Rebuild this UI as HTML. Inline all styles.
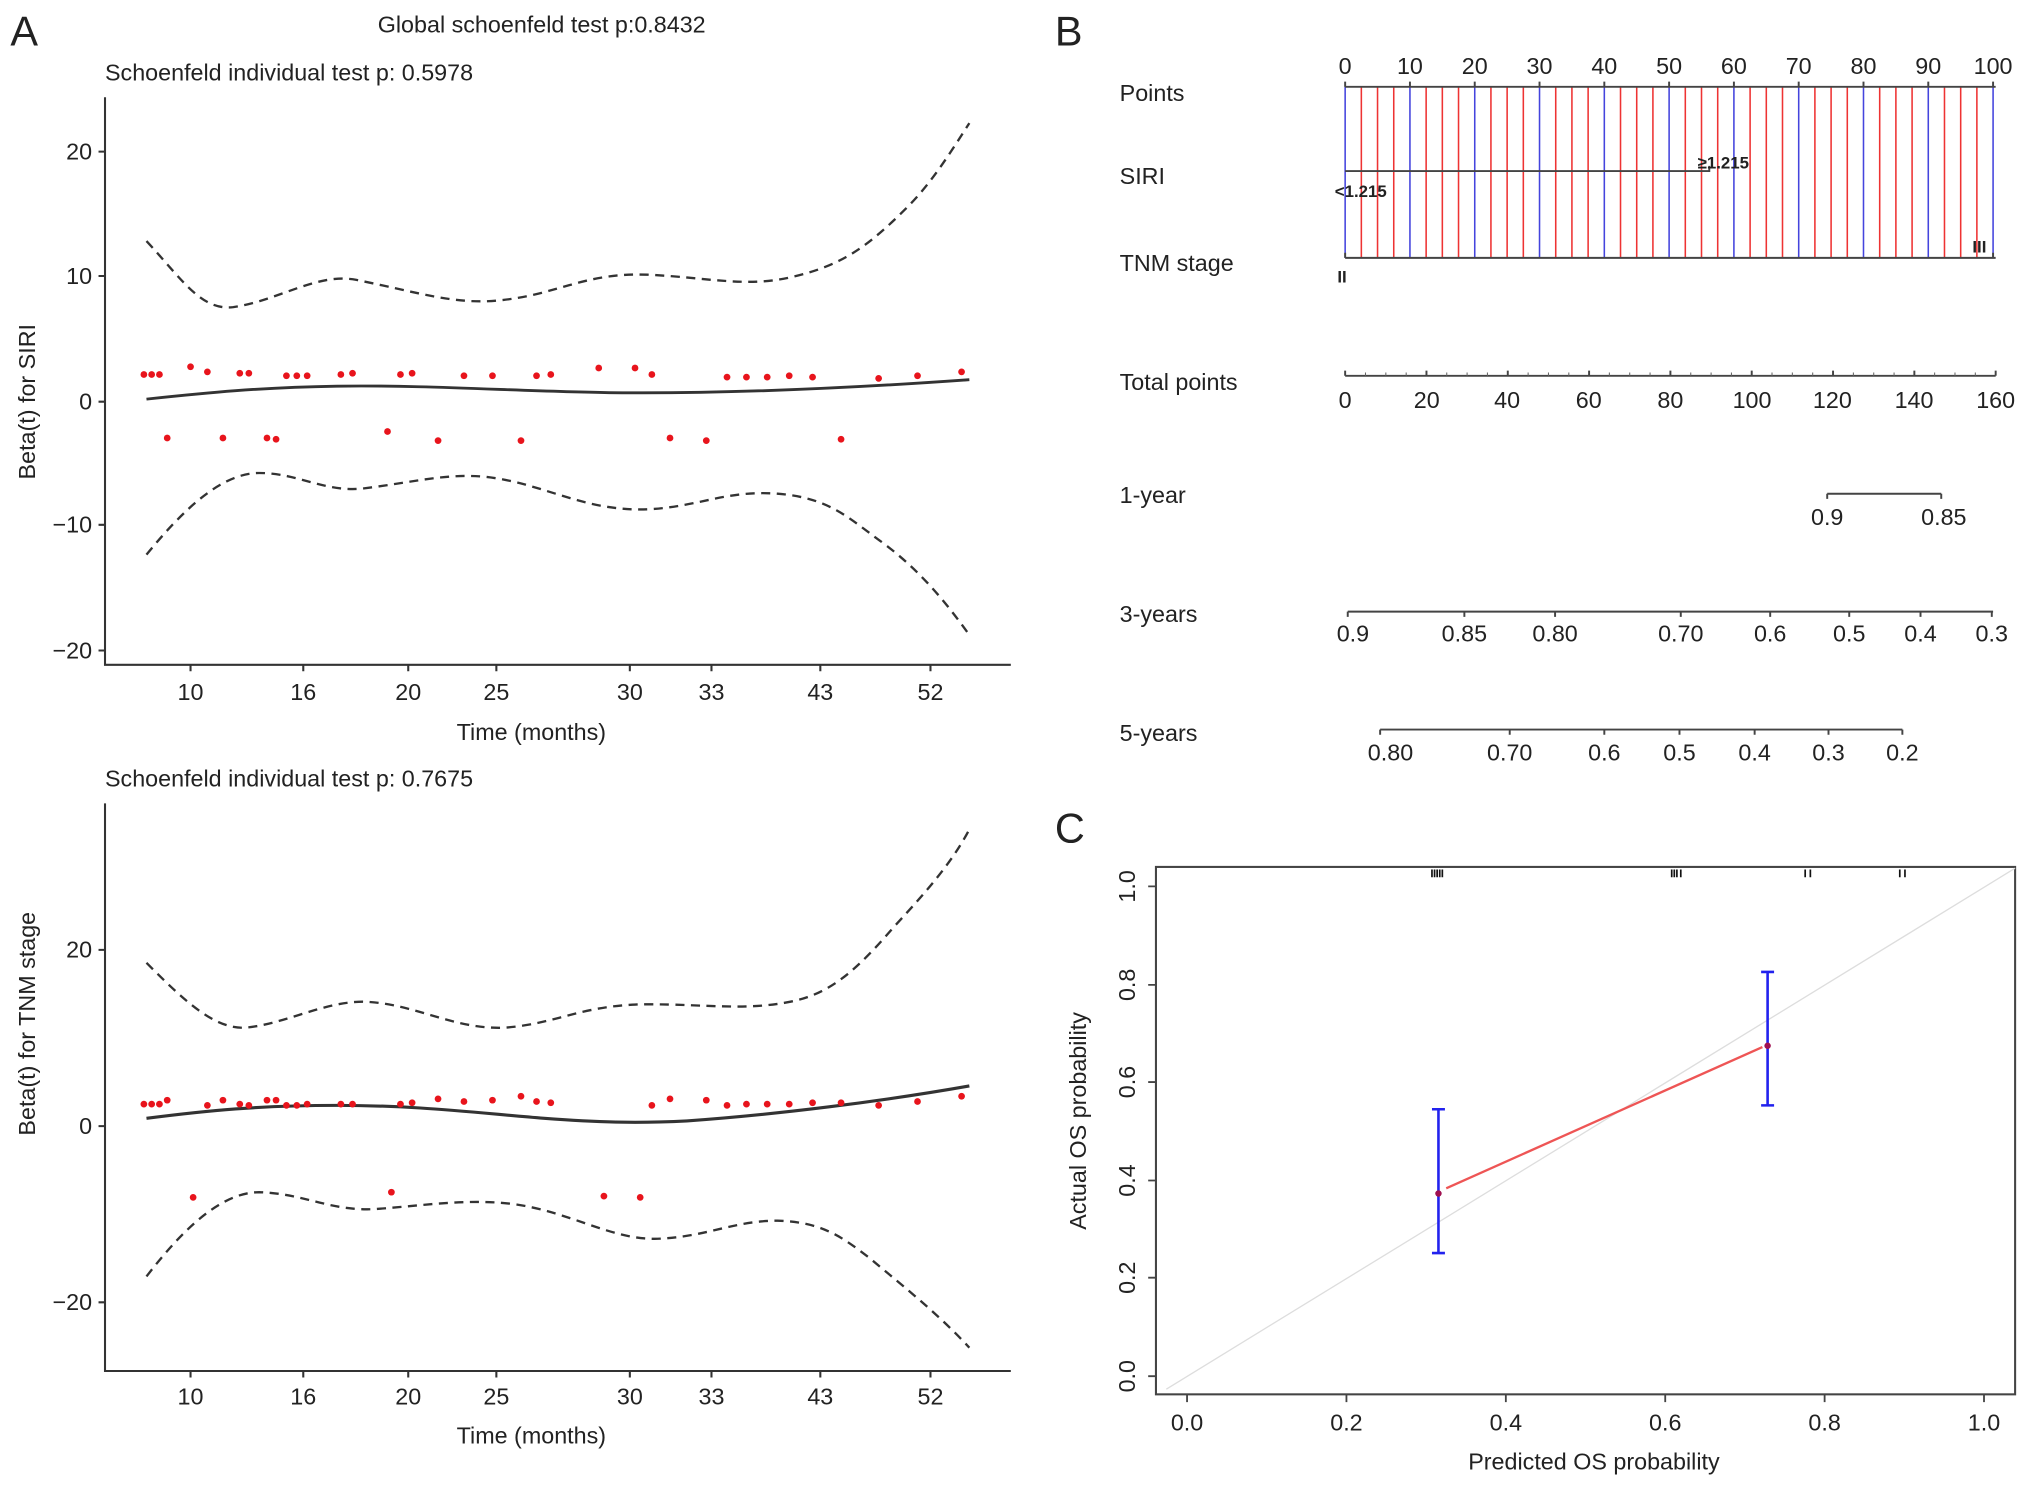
<!DOCTYPE html>
<html><head><meta charset="utf-8"><style>
html,body{margin:0;padding:0;background:#fff;}
svg{display:block;}
text{font-family:"Liberation Sans",sans-serif;fill:#222;}
</style></head><body>
<svg width="2032" height="1487" viewBox="0 0 1568 1147.5" xmlns="http://www.w3.org/2000/svg">
<rect width="1568" height="1148" fill="#fff"/>
<!-- Panel letters -->
<text x="8" y="35" font-size="32">A</text>
<text x="814" y="35" font-size="32">B</text>
<text x="814" y="650" font-size="32">C</text>

<!-- ===== Panel A top ===== -->
<text x="418" y="25" font-size="18" text-anchor="middle">Global schoenfeld test p:0.8432</text>
<text x="81" y="62" font-size="18">Schoenfeld individual test p: 0.5978</text>
<g stroke="#333" stroke-width="1.6" fill="none">
<path d="M81,75 V513 H780"/>
<path d="M76,117 H81 M76,213 H81 M76,310 H81 M76,405 H81 M76,502 H81"/>
<path d="M147,513 V518 M234,513 V518 M315,513 V518 M383,513 V518 M486,513 V518 M549,513 V518 M633,513 V518 M718,513 V518"/>
</g>
<g font-size="18" text-anchor="end">
<text x="71" y="123">20</text><text x="71" y="219">10</text><text x="71" y="316">0</text><text x="71" y="411">−10</text><text x="71" y="508">−20</text>
</g>
<g font-size="18" text-anchor="middle">
<text x="147" y="540">10</text><text x="234" y="540">16</text><text x="315" y="540">20</text><text x="383" y="540">25</text><text x="486" y="540">30</text><text x="549" y="540">33</text><text x="633" y="540">43</text><text x="718" y="540">52</text>
<text x="410" y="571">Time (months)</text>
</g>
<text transform="translate(27,310) rotate(-90)" font-size="18" text-anchor="middle">Beta(t) for SIRI</text>
<g fill="none" stroke="#333" stroke-width="1.8">
<path stroke-dasharray="7,5" d="M113,186 C140,215 155,240 180,237 C215,232 245,210 275,216 C320,225 350,235 383,232 C430,228 450,210 500,212 C545,214 575,222 610,214 C650,205 670,190 700,160 C720,140 735,115 748,95"/>
<path stroke-dasharray="7,5" d="M113,428 C140,395 170,365 200,365 C230,365 250,380 280,377 C320,372 345,365 375,368 C420,373 450,395 500,393 C540,391 560,378 600,381 C640,384 655,400 680,418 C710,440 730,465 748,490"/>
<path stroke-width="2.2" d="M113,308 C160,303 200,299 260,298 C330,297 400,302 470,303 C560,304 650,300 748,293"/>
</g>
<g fill="#e8141c">
<circle cx="111" cy="289" r="2.6"/><circle cx="117" cy="289" r="2.6"/><circle cx="123" cy="289" r="2.6"/><circle cx="147" cy="283" r="2.6"/><circle cx="160" cy="287" r="2.6"/><circle cx="185" cy="288" r="2.6"/><circle cx="192" cy="288" r="2.6"/><circle cx="221" cy="290" r="2.6"/><circle cx="229" cy="290" r="2.6"/><circle cx="237" cy="290" r="2.6"/><circle cx="263" cy="289" r="2.6"/><circle cx="272" cy="288" r="2.6"/><circle cx="309" cy="289" r="2.6"/><circle cx="318" cy="288" r="2.6"/><circle cx="358" cy="290" r="2.6"/><circle cx="380" cy="290" r="2.6"/><circle cx="414" cy="290" r="2.6"/><circle cx="425" cy="289" r="2.6"/><circle cx="462" cy="284" r="2.6"/><circle cx="490" cy="284" r="2.6"/><circle cx="503" cy="289" r="2.6"/><circle cx="561" cy="291" r="2.6"/><circle cx="576" cy="291" r="2.6"/><circle cx="592" cy="291" r="2.6"/><circle cx="609" cy="290" r="2.6"/><circle cx="627" cy="291" r="2.6"/><circle cx="678" cy="292" r="2.6"/><circle cx="708" cy="290" r="2.6"/><circle cx="742" cy="287" r="2.6"/>
<circle cx="129" cy="338" r="2.6"/><circle cx="172" cy="338" r="2.6"/><circle cx="206" cy="338" r="2.6"/><circle cx="213" cy="339" r="2.6"/><circle cx="299" cy="333" r="2.6"/><circle cx="338" cy="340" r="2.6"/><circle cx="402" cy="340" r="2.6"/><circle cx="517" cy="338" r="2.6"/><circle cx="545" cy="340" r="2.6"/><circle cx="649" cy="339" r="2.6"/>
</g>

<!-- ===== Panel A bottom ===== -->
<text x="81" y="607" font-size="18">Schoenfeld individual test p: 0.7675</text>
<g stroke="#333" stroke-width="1.6" fill="none">
<path d="M81,620 V1058 H780"/>
<path d="M76,733 H81 M76,869 H81 M76,1005 H81"/>
<path d="M147,1058 V1063 M234,1058 V1063 M315,1058 V1063 M383,1058 V1063 M486,1058 V1063 M549,1058 V1063 M633,1058 V1063 M718,1058 V1063"/>
</g>
<g font-size="18" text-anchor="end">
<text x="71" y="739">20</text><text x="71" y="875">0</text><text x="71" y="1011">−20</text>
</g>
<g font-size="18" text-anchor="middle">
<text x="147" y="1084">10</text><text x="234" y="1084">16</text><text x="315" y="1084">20</text><text x="383" y="1084">25</text><text x="486" y="1084">30</text><text x="549" y="1084">33</text><text x="633" y="1084">43</text><text x="718" y="1084">52</text>
<text x="410" y="1114">Time (months)</text>
</g>
<text transform="translate(27,790) rotate(-90)" font-size="18" text-anchor="middle">Beta(t) for TNM stage</text>
<g fill="none" stroke="#333" stroke-width="1.8">
<path stroke-dasharray="7,5" d="M113,743 C140,770 165,795 190,793 C220,790 250,773 280,773 C320,774 350,795 390,793 C430,790 450,775 500,775 C545,775 575,780 610,773 C640,767 660,750 690,715 C715,688 735,665 748,640"/>
<path stroke-dasharray="7,5" d="M113,985 C140,950 170,920 200,920 C235,921 255,935 290,933 C330,930 360,925 395,929 C440,935 470,956 505,956 C545,955 565,942 600,942 C635,943 650,955 670,970 C700,995 725,1015 748,1040"/>
<path stroke-width="2.4" d="M113,863 C160,857 200,853 260,853 C320,853 360,858 420,863 C460,866 490,867 530,865 C600,860 680,850 748,838"/>
</g>
<g fill="#e8141c">
<circle cx="111" cy="852" r="2.6"/><circle cx="117" cy="852" r="2.6"/><circle cx="123" cy="852" r="2.6"/><circle cx="129" cy="849" r="2.6"/><circle cx="160" cy="853" r="2.6"/><circle cx="172" cy="849" r="2.6"/><circle cx="185" cy="852" r="2.6"/><circle cx="192" cy="853" r="2.6"/><circle cx="206" cy="849" r="2.6"/><circle cx="213" cy="849" r="2.6"/><circle cx="221" cy="853" r="2.6"/><circle cx="229" cy="853" r="2.6"/><circle cx="237" cy="852" r="2.6"/><circle cx="263" cy="852" r="2.6"/><circle cx="272" cy="852" r="2.6"/><circle cx="309" cy="852" r="2.6"/><circle cx="318" cy="851" r="2.6"/><circle cx="338" cy="848" r="2.6"/><circle cx="358" cy="850" r="2.6"/><circle cx="380" cy="849" r="2.6"/><circle cx="402" cy="846" r="2.6"/><circle cx="414" cy="850" r="2.6"/><circle cx="425" cy="851" r="2.6"/><circle cx="503" cy="853" r="2.6"/><circle cx="517" cy="848" r="2.6"/><circle cx="545" cy="849" r="2.6"/><circle cx="561" cy="853" r="2.6"/><circle cx="576" cy="852" r="2.6"/><circle cx="592" cy="852" r="2.6"/><circle cx="609" cy="852" r="2.6"/><circle cx="627" cy="851" r="2.6"/><circle cx="649" cy="851" r="2.6"/><circle cx="678" cy="853" r="2.6"/><circle cx="708" cy="850" r="2.6"/><circle cx="742" cy="846" r="2.6"/>
<circle cx="149" cy="924" r="2.6"/><circle cx="302" cy="920" r="2.6"/><circle cx="466" cy="923" r="2.6"/><circle cx="494" cy="924" r="2.6"/>
</g>

<!-- ===== Panel B nomogram ===== -->
<g font-size="18">
<text x="864" y="78">Points</text>
<text x="864" y="142">SIRI</text>
<text x="864" y="209">TNM stage</text>
<text x="864" y="301">Total points</text>
<text x="864" y="388">1-year</text>
<text x="864" y="480">3-years</text>
<text x="864" y="572">5-years</text>
</g>
<g font-size="18" text-anchor="middle">
<text x="1038" y="57">0</text><text x="1088" y="57">10</text><text x="1138" y="57">20</text><text x="1188" y="57">30</text><text x="1238" y="57">40</text><text x="1288" y="57">50</text><text x="1338" y="57">60</text><text x="1388" y="57">70</text><text x="1438" y="57">80</text><text x="1488" y="57">90</text><text x="1538" y="57">100</text>
</g>
<g stroke-width="1.2">
<path stroke="#e33" d="M1050.5,67V199 M1063,67V199 M1075.5,67V199 M1100.5,67V199 M1113,67V199 M1125.5,67V199 M1150.5,67V199 M1163,67V199 M1175.5,67V199 M1200.5,67V199 M1213,67V199 M1225.5,67V199 M1250.5,67V199 M1263,67V199 M1275.5,67V199 M1300.5,67V199 M1313,67V199 M1325.5,67V199 M1350.5,67V199 M1363,67V199 M1375.5,67V199 M1400.5,67V199 M1413,67V199 M1425.5,67V199 M1450.5,67V199 M1463,67V199 M1475.5,67V199 M1500.5,67V199 M1513,67V199 M1525.5,67V199"/>
<path stroke="#44d" d="M1038,67V199 M1088,67V199 M1138,67V199 M1188,67V199 M1238,67V199 M1288,67V199 M1338,67V199 M1388,67V199 M1438,67V199 M1488,67V199 M1538,67V199"/>
</g>
<g stroke="#444" stroke-width="1.5" fill="none">
<path d="M1038,67H1540"/>
<path d="M1038,63V67 M1088,63V67 M1138,63V67 M1188,63V67 M1238,63V67 M1288,63V67 M1338,63V67 M1388,63V67 M1438,63V67 M1488,63V67 M1538,63V67"/>
<path d="M1038,132H1319V128"/>
<path d="M1038,199H1540 M1038,199V195 M1538,199V195"/>
<path d="M1038,290H1540"/>
<path d="M1038,290V286 M1100.75,290V286 M1163.5,290V286 M1226.25,290V286 M1289,290V286 M1351.75,290V286 M1414.5,290V286 M1477.25,290V286 M1540,290V286"/>
<path d="M1410,381H1498 M1410,381V385 M1498,381V385"/>
<path d="M1040,472H1538 M1040,472V476 M1130,472V476 M1200,472V476 M1297,472V476 M1366,472V476 M1427,472V476 M1482,472V476 M1537,472V476"/>
<path d="M1065,563H1468 M1065,563V567 M1165,563V567 M1238,563V567 M1296,563V567 M1354,563V567 M1411,563V567 M1468,563V567"/>
</g>
<g stroke="#666" stroke-width="0.8">
<path d="M1053.7,290V287.5 M1069.4,290V287.5 M1085.1,290V287.5 M1116.4,290V287.5 M1132.1,290V287.5 M1147.8,290V287.5 M1179.2,290V287.5 M1194.9,290V287.5 M1210.6,290V287.5 M1241.9,290V287.5 M1257.6,290V287.5 M1273.3,290V287.5 M1304.7,290V287.5 M1320.4,290V287.5 M1336.1,290V287.5 M1367.4,290V287.5 M1383.1,290V287.5 M1398.8,290V287.5 M1430.2,290V287.5 M1445.9,290V287.5 M1461.6,290V287.5 M1492.9,290V287.5 M1508.6,290V287.5 M1524.3,290V287.5"/>
</g>
<g font-size="13" font-weight="bold" fill="#222">
<text x="1310" y="130">≥1.215</text>
<text x="1030" y="152">&lt;1.215</text>
<text x="1522" y="195">III</text>
<text x="1032" y="218">II</text>
</g>
<g font-size="18" text-anchor="middle">
<text x="1038" y="315">0</text><text x="1101" y="315">20</text><text x="1163" y="315">40</text><text x="1226" y="315">60</text><text x="1289" y="315">80</text><text x="1352" y="315">100</text><text x="1414" y="315">120</text><text x="1477" y="315">140</text><text x="1540" y="315">160</text>
<text x="1410" y="405">0.9</text><text x="1500" y="405">0.85</text>
<text x="1044" y="495">0.9</text><text x="1130" y="495">0.85</text><text x="1200" y="495">0.80</text><text x="1297" y="495">0.70</text><text x="1366" y="495">0.6</text><text x="1427" y="495">0.5</text><text x="1482" y="495">0.4</text><text x="1537" y="495">0.3</text>
<text x="1073" y="587">0.80</text><text x="1165" y="587">0.70</text><text x="1238" y="587">0.6</text><text x="1296" y="587">0.5</text><text x="1354" y="587">0.4</text><text x="1411" y="587">0.3</text><text x="1468" y="587">0.2</text>
</g>

<!-- ===== Panel C calibration ===== -->
<rect x="892" y="669" width="663" height="407" fill="none" stroke="#444" stroke-width="1.6"/>
<line x1="900" y1="1072" x2="1555" y2="670" stroke="#ddd" stroke-width="1"/>
<g stroke="#444" stroke-width="1.4">
<path d="M916,1076V1082 M1039,1076V1082 M1162,1076V1082 M1285,1076V1082 M1408,1076V1082 M1531,1076V1082"/>
<path d="M886,1062H892 M886,986H892 M886,911H892 M886,835H892 M886,760H892 M886,684H892"/>
</g>
<g stroke="#111" stroke-width="1.3">
<path d="M1105,671V677 M1107,671V677 M1109,671V677 M1111,671V677 M1113,671V677 M1290,671V677 M1292,671V677 M1294,671V677 M1297,671V677 M1393,671V677 M1397,671V677 M1466,671V677 M1470,671V677"/>
</g>
<g font-size="18" text-anchor="middle">
<text x="916" y="1104">0.0</text><text x="1039" y="1104">0.2</text><text x="1162" y="1104">0.4</text><text x="1285" y="1104">0.6</text><text x="1408" y="1104">0.8</text><text x="1531" y="1104">1.0</text>
<text x="1230" y="1134">Predicted OS probability</text>
</g>
<g font-size="18" text-anchor="middle">
<text transform="translate(876,1062) rotate(-90)">0.0</text>
<text transform="translate(876,986) rotate(-90)">0.2</text>
<text transform="translate(876,911) rotate(-90)">0.4</text>
<text transform="translate(876,835) rotate(-90)">0.6</text>
<text transform="translate(876,760) rotate(-90)">0.8</text>
<text transform="translate(876,684) rotate(-90)">1.0</text>
<text transform="translate(838,865) rotate(-90)">Actual OS probability</text>
</g>
<line x1="1116" y1="917" x2="1360" y2="808" stroke="#e55" stroke-width="1.8"/>
<g stroke="#2222ee" stroke-width="2" fill="none">
<path d="M1110,856V967 M1105,856H1115 M1105,967H1115"/>
<path d="M1364,750V853 M1359,750H1369 M1359,853H1369"/>
</g>
<circle cx="1110" cy="921" r="2.5" fill="#a01050"/>
<circle cx="1364" cy="807" r="2.5" fill="#a01050"/>
</svg>
</body></html>
